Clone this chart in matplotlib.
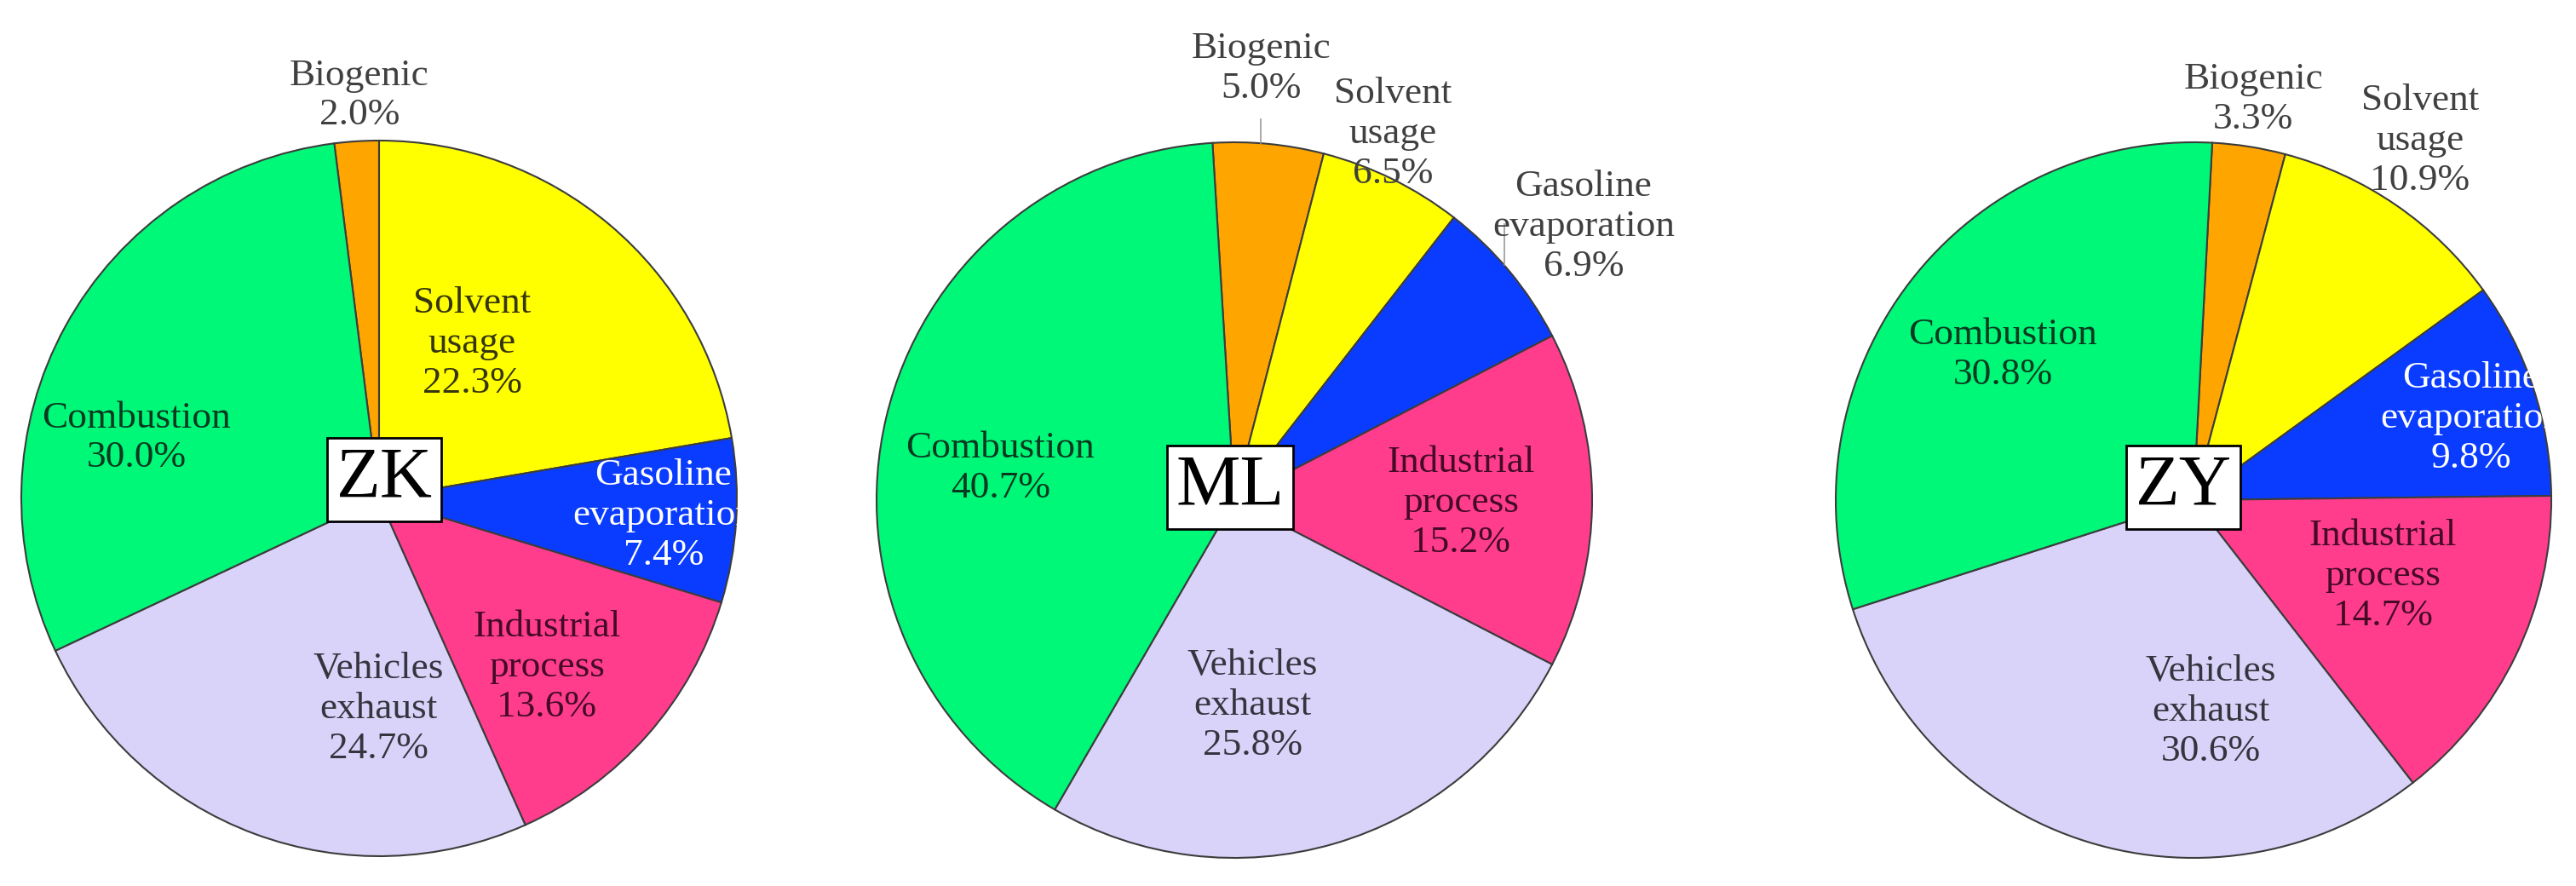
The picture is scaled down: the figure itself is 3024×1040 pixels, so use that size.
import matplotlib.pyplot as plt
from matplotlib.patches import Circle

# source apportionment of VOCs at three sites (%)
sites = ['ZK', 'ML', 'ZY']
sources = ['Biogenic', 'Solvent\nusage', 'Gasoline\nevaporation',
           'Industrial\nprocess', 'Vehicles\nexhaust', 'Combustion']
zk_share = [2.0, 22.3, 7.4, 13.6, 24.7, 30.0]
ml_share = [5.0, 6.5, 6.9, 15.2, 25.8, 40.7]
zy_share = [3.3, 10.9, 9.8, 14.7, 30.6, 30.8]

colors = ['#ffa500', '#ffff00', '#0a3cff', '#ff3d8c', '#d9d3f9', '#00f878']
text_colors = ['#404040', '#35350f', '#ffffff', '#440a26', '#35353f', '#093a20']
outside_color = '#404040'

W, H = 3024, 1040
R = 420
# pie centre in pixels (y upwards), angle where the first wedge starts, offset of the site box
layout = {
    'ZK': dict(center=(445, 455), start=97.2, box=(6, 22)),
    'ML': dict(center=(1449, 453), start=93.5, box=(-5, 15)),
    'ZY': dict(center=(2575, 453), start=87.0, box=(-12, 15)),
}
# label centres relative to the pie centre, in radii
label_pos = {
    'ZK': [(-0.055, 1.126), (0.260, 0.433), (0.795, -0.048),
           (0.469, -0.471), (-0.002, -0.588), (-0.679, 0.169)],
    'ML': [(0.076, 1.205), (0.443, 1.024), (0.976, 0.764),
           (0.633, -0.007), (0.050, -0.574), (-0.654, 0.090)],
    'ZY': [(0.167, 1.121), (0.633, 1.005), (0.776, 0.229),
           (0.529, -0.212), (0.048, -0.590), (-0.533, 0.405)],
}
outside = {'ZK': [0], 'ML': [0, 1, 2], 'ZY': [0, 1]}
# leader lines: x and top end (they run down to the rim)
leaders = {'ML': [(1480, 900), (1766, 777)]}

plt.rcParams['font.family'] = ['Liberation Serif', 'DejaVu Serif']

fig = plt.figure(figsize=(W / 200, H / 200), dpi=200)
ax = fig.add_axes([0, 0, 1, 1])

for site, share in zip(sites, [zk_share, ml_share, zy_share]):
    cx, cy = layout[site]['center']
    ax.pie(share, colors=colors, center=(cx, cy), radius=R,
           startangle=layout[site]['start'], counterclock=False,
           wedgeprops=dict(edgecolor='#3c3c3c', linewidth=0.75))
    rim = Circle((cx, cy), R, transform=ax.transData)

    for i, (name, val) in enumerate(zip(sources, share)):
        dx, dy = label_pos[site][i]
        out = i in outside[site]
        t = ax.text(cx + dx * R, cy + dy * R, f'{name}\n{val:.1f}%',
                    ha='center', va='center', multialignment='center',
                    fontsize=16.3, linespacing=1.22,
                    color=outside_color if out else text_colors[i])
        if not out:
            t.set_clip_path(rim)

    for lx, ly in leaders.get(site, []):
        edge = cy + (R ** 2 - (lx - cx) ** 2) ** 0.5
        ax.plot([lx, lx], [ly, edge], color='#9a9a9a', lw=0.6)

    bx, by = layout[site]['box']
    ax.text(cx + bx, cy + by, site, ha='center', va='center', fontsize=30.5,
            bbox=dict(boxstyle='square,pad=0.12', fc='white', ec='black', lw=1.0))

ax.set_xlim(0, W)
ax.set_ylim(0, H)
ax.set_aspect('equal')
ax.axis('off')

fig.savefig('out.png', dpi=200)
